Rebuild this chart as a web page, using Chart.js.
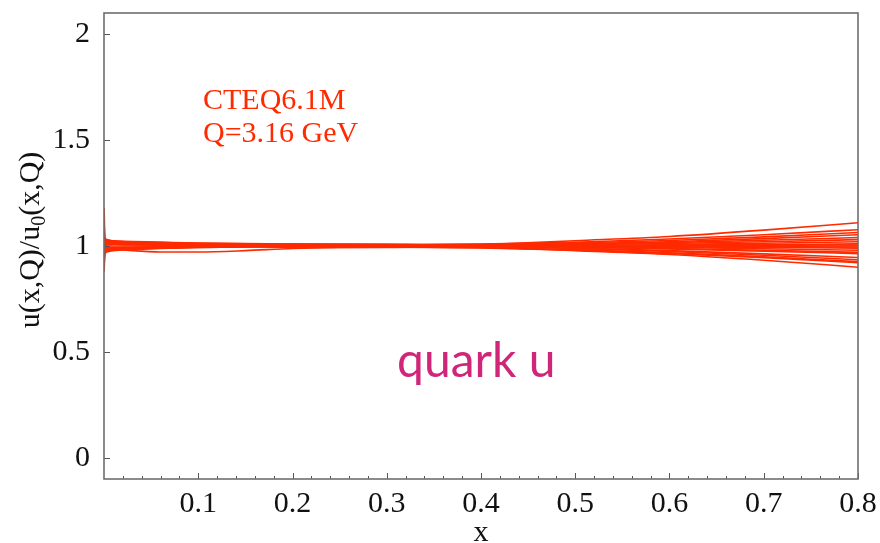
<!DOCTYPE html>
<html>
<head>
<meta charset="utf-8">
<script src="https://cdn.jsdelivr.net/npm/chart.js@4.4.1/dist/chart.umd.min.js"></script>
<style>
    html, body { margin: 0; padding: 0; background: #fff; }
</style>
</head>
<body>
<canvas id="chart" width="880" height="543"></canvas>
<script>
(function () {
    "use strict";

    // x grid the error-set ratios were read at
    const xValues = [0.0001, 0.001, 0.003, 0.01, 0.03, 0.06, 0.1, 0.15, 0.2, 0.3, 0.4, 0.5, 0.6, 0.7, 0.8];

    // u(x,Q)/u0(x,Q) for each CTEQ6.1M error member
    const m01 = [1.18, 1.04, 1.03, 1.024, 1.018, 1.012, 1.006, 0.998, 0.993, 0.993, 1.006, 1.025, 1.045, 1.075, 1.11];
    const m02 = [0.88, 0.96, 0.972, 0.978, 0.984, 0.99, 0.996, 1.003, 1.009, 1.009, 0.995, 0.978, 0.96, 0.933, 0.90];
    const m03 = [1.10, 1.03, 1.025, 1.022, 1.02, 1.017, 1.013, 1.01, 1.008, 1.006, 1.009, 1.018, 1.033, 1.053, 1.077];
    const m04 = [0.93, 0.975, 0.98, 0.983, 0.987, 0.991, 0.995, 0.999, 1.003, 1.005, 0.999, 0.988, 0.974, 0.956, 0.935];
    const m05 = [1.05, 1.028, 1.025, 1.023, 1.021, 1.018, 1.014, 1.011, 1.009, 1.006, 1.008, 1.014, 1.026, 1.043, 1.064];
    const m06 = [0.96, 0.98, 0.985, 0.986, 0.978, 0.972, 0.972, 0.978, 0.988, 0.994, 0.992, 0.983, 0.968, 0.949, 0.926];
    const m07 = [1.03, 1.018, 1.016, 1.014, 1.012, 1.01, 1.008, 1.006, 1.004, 1.002, 1.004, 1.01, 1.02, 1.035, 1.053];
    const m08 = [0.97, 0.985, 0.988, 0.99, 0.992, 0.995, 0.997, 0.999, 1.001, 1.002, 0.998, 0.99, 0.978, 0.963, 0.946];
    const m09 = [1.02, 1.012, 1.01, 1.008, 1.007, 1.005, 1.003, 1.001, 1.0, 0.999, 1.002, 1.008, 1.016, 1.027, 1.04];
    const m10 = [0.98, 0.99, 0.992, 0.993, 0.994, 0.996, 0.998, 1.0, 1.001, 1.001, 0.999, 0.994, 0.986, 0.976, 0.964];
    const m11 = [1.01, 1.022, 1.019, 1.016, 1.013, 1.01, 1.007, 1.004, 1.002, 1.0, 1.002, 1.006, 1.012, 1.02, 1.03];
    const m12 = [1.0, 0.978, 0.981, 0.984, 0.987, 0.99, 0.993, 0.996, 0.998, 1.0, 0.999, 0.995, 0.988, 0.98, 0.97];
    const m13 = [0.99, 1.0, 1.005, 1.008, 1.009, 1.008, 1.005, 1.001, 0.997, 0.995, 0.996, 1.001, 1.007, 1.013, 1.02];
    const m14 = [1.02, 0.998, 0.994, 0.993, 0.993, 0.994, 0.996, 0.998, 1.0, 1.001, 1.001, 0.998, 0.993, 0.987, 0.98];
    const m15 = [1.04, 1.032, 1.024, 1.019, 1.015, 1.011, 1.008, 1.004, 0.999, 0.995, 0.997, 1.001, 1.004, 1.007, 1.01];
    const m16 = [0.95, 0.97, 0.977, 0.981, 0.985, 0.989, 0.993, 0.996, 0.998, 1.0, 1.001, 0.999, 0.996, 0.993, 0.99];
    const m17 = [1.07, 1.015, 1.011, 1.009, 1.008, 1.006, 1.004, 1.002, 1.001, 1.0, 1.0, 1.001, 1.002, 1.003, 1.005];
    const m18 = [0.91, 0.982, 0.987, 0.99, 0.992, 0.994, 0.996, 0.998, 0.999, 1.0, 1.0, 0.999, 0.998, 0.997, 0.995];
    const m19 = [1.0, 1.0, 1.0, 1.0, 1.0, 1.0, 1.0, 1.0, 1.0, 1.0, 1.0, 1.0, 1.0, 1.0, 1.0];
    const m20 = [0.99, 1.008, 1.009, 1.008, 1.006, 1.004, 1.003, 1.001, 0.999, 0.997, 0.991, 0.98, 0.965, 0.945, 0.921];

    const members = [m01, m02, m03, m04, m05, m06, m07, m08, m09, m10,
                     m11, m12, m13, m14, m15, m16, m17, m18, m19, m20];

    // ticks
    const xTickValues = [0.02, 0.04, 0.06, 0.08, 0.1, 0.12, 0.14, 0.16, 0.18, 0.2,
                         0.22, 0.24, 0.26, 0.28, 0.3, 0.32, 0.34, 0.36, 0.38, 0.4,
                         0.42, 0.44, 0.46, 0.48, 0.5, 0.52, 0.54, 0.56, 0.58, 0.6,
                         0.62, 0.64, 0.66, 0.68, 0.7, 0.72, 0.74, 0.76, 0.78, 0.8];
    const xMajorTicks = [0.1, 0.2, 0.3, 0.4, 0.5, 0.6, 0.7, 0.8];
    const xTickLabels = ["0.1", "0.2", "0.3", "0.4", "0.5", "0.6", "0.7", "0.8"];
    const yTickValues = [0, 0.5, 1, 1.5, 2];
    const yTickLabels = ["0", "0.5", "1", "1.5", "2"];

    const LINE_RED = "#ff2a00";
    const SERIF = "'Liberation Serif', 'DejaVu Serif', serif";

    const majorIndex = (v) => xMajorTicks.findIndex((m) => Math.abs(m - v) < 1e-6);

    // frame, inward tick marks and the text drawn on top
    const framePlugin = {
        id: "frame",
        afterDraw(chart) {
            const ctx = chart.ctx;
            const a = chart.chartArea;
            const xs = chart.scales.x;
            const ys = chart.scales.y;
            ctx.save();

            ctx.strokeStyle = "#555";
            ctx.lineWidth = 1;
            ctx.beginPath();
            xTickValues.forEach((v) => {
                const px = Math.round(xs.getPixelForValue(v)) + 0.5;
                const len = majorIndex(v) >= 0 ? 6 : 3;
                ctx.moveTo(px, a.bottom);
                ctx.lineTo(px, a.bottom - len);
            });
            yTickValues.forEach((v) => {
                const py = Math.round(ys.getPixelForValue(v)) + 0.5;
                ctx.moveTo(a.left, py);
                ctx.lineTo(a.left + 6, py);
            });
            ctx.stroke();

            ctx.strokeStyle = "#6e6e6e";
            ctx.lineWidth = 1.6;
            ctx.strokeRect(a.left, a.top, a.right - a.left, a.bottom - a.top);

            // labels inside the plot
            ctx.fillStyle = LINE_RED;
            ctx.font = "30px " + SERIF;
            ctx.textAlign = "left";
            ctx.textBaseline = "alphabetic";
            ctx.fillText("CTEQ6.1M", 203, 109);
            ctx.fillText("Q=3.16 GeV", 203, 142);

            ctx.fillStyle = "#d0267a";
            ctx.font = "48px Lato, 'Open Sans', sans-serif";
            ctx.fillText("quark u", 397, 377);

            // axis titles
            ctx.fillStyle = "#111";
            ctx.font = "30px " + SERIF;
            ctx.textAlign = "center";
            ctx.fillText("x", (a.left + a.right) / 2, 541);

            ctx.translate(39, 240);
            ctx.rotate(-Math.PI / 2);
            const p1 = "u(x,Q)/u";
            const p2 = "0";
            const p3 = "(x,Q)";
            ctx.font = "30px " + SERIF;
            const w1 = ctx.measureText(p1).width;
            const w3 = ctx.measureText(p3).width;
            ctx.font = "20px " + SERIF;
            const w2 = ctx.measureText(p2).width;
            let cx = -(w1 + w2 + w3) / 2;
            ctx.textAlign = "left";
            ctx.font = "30px " + SERIF;
            ctx.fillText(p1, cx, 0);
            cx += w1;
            ctx.font = "20px " + SERIF;
            ctx.fillText(p2, cx, 6);
            cx += w2;
            ctx.font = "30px " + SERIF;
            ctx.fillText(p3, cx, 0);

            ctx.restore();
        },
    };

    const ctx = document.getElementById("chart").getContext("2d");
    new Chart(ctx, {
        type: "line",
        data: {
            datasets: members.map((m, i) => ({
                label: "member " + (i + 1),
                data: xValues.map((x, k) => ({ x: x, y: m[k] })),
                borderColor: LINE_RED,
                backgroundColor: LINE_RED,
                borderWidth: 1.6,
                pointRadius: 0,
                fill: false,
                cubicInterpolationMode: "monotone",
            })),
        },
        options: {
            responsive: false,
            devicePixelRatio: 1,
            animation: false,
            layout: {
                padding: { top: 13, right: 22, left: 0, bottom: 0 },
            },
            plugins: {
                legend: { display: false },
                tooltip: { enabled: false },
            },
            scales: {
                x: {
                    type: "linear",
                    min: 0,
                    max: 0.8,
                    afterBuildTicks: (s) => {
                        s.ticks = xTickValues.map((v) => ({ value: v }));
                    },
                    afterFit: (s) => {
                        s.height = 64;
                        s.paddingLeft = 0;
                        s.paddingRight = 0;
                    },
                    ticks: {
                        autoSkip: false,
                        maxRotation: 0,
                        padding: 7,
                        color: "#111",
                        font: { family: SERIF, size: 30 },
                        callback: (v) => {
                            const i = majorIndex(v);
                            return i >= 0 ? xTickLabels[i] : "";
                        },
                    },
                    grid: { display: false, drawTicks: false },
                    border: { display: false },
                },
                y: {
                    type: "linear",
                    min: -0.1,
                    max: 2.1,
                    afterBuildTicks: (s) => {
                        s.ticks = yTickValues.map((v) => ({ value: v }));
                    },
                    afterFit: (s) => {
                        s.width = 104;
                        s.paddingTop = 0;
                        s.paddingBottom = 0;
                    },
                    ticks: {
                        padding: 14,
                        color: "#111",
                        font: { family: SERIF, size: 30 },
                        callback: (v) => {
                            const i = yTickValues.indexOf(v);
                            return i >= 0 ? yTickLabels[i] : "";
                        },
                    },
                    grid: { display: false, drawTicks: false },
                    border: { display: false },
                },
            },
        },
        plugins: [framePlugin],
    });
})();
</script>
</body>
</html>
